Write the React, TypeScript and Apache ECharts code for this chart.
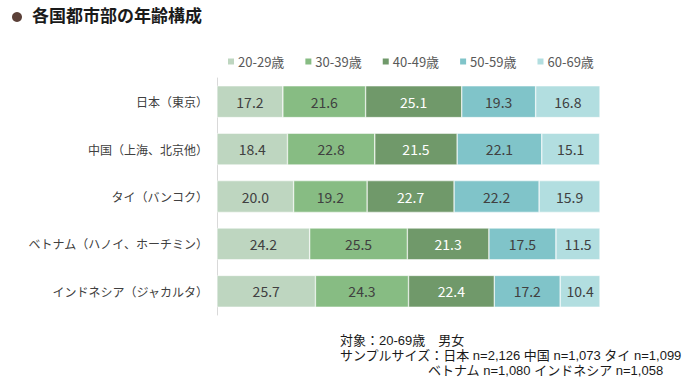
import React, { useEffect, useRef } from "react";
import * as echarts from "echarts";

const categories = ["日本（東京）", "中国（上海、北京他）", "タイ（バンコク）", "ベトナム（ハノイ、ホーチミン）", "インドネシア（ジャカルタ）"];
const seriesNames = ["20-29歳", "30-39歳", "40-49歳", "50-59歳", "60-69歳"];
const age20 = [17.2, 18.4, 20.0, 24.2, 25.7];
const age30 = [21.6, 22.8, 19.2, 25.5, 24.3];
const age40 = [25.1, 21.5, 22.7, 21.3, 22.4];
const age50 = [19.3, 22.1, 22.2, 17.5, 17.2];
const age60 = [16.8, 15.1, 15.9, 11.5, 10.4];
const colors = ["#bed6c0", "#87bc83", "#70996a", "#80c4c9", "#b2dee0"];
const labelColors = ["#404040", "#404040", "#ffffff", "#404040", "#404040"];
const title = "各国都市部の年齢構成";
const notes = ["対象：20-69歳　男女", "サンプルサイズ：日本 n=2,126 中国 n=1,073 タイ n=1,099", "ベトナム n=1,080 インドネシア n=1,058"];

export default function App() {
  const ref = useRef<HTMLDivElement>(null);
  useEffect(() => {
    const chart = echarts.init(ref.current!, null, { renderer: "svg" });
    const allData = [age20, age30, age40, age50, age60];
    const font = "'Noto Sans CJK JP', 'Noto Sans', sans-serif";
    const noteFont = "'Liberation Sans', 'Noto Sans CJK JP', sans-serif";
    const noteStyle = (text: string) => ({ text, font: `13px ${noteFont}`, fill: "#1a1a1a", lineHeight: 14, verticalAlign: "middle" });
    chart.setOption({
      animation: false,
      textStyle: { fontFamily: font },
      grid: { left: 217, right: 100, top: 78, bottom: 72, containLabel: false },
      legend: {
        top: 50,
        left: 221,
        itemWidth: 8,
        itemHeight: 8,
        itemGap: 19,
        icon: "rect",
        textStyle: { fontSize: 13, color: "#595959", fontFamily: font, padding: [0, 0, 0, -2] },
        data: seriesNames,
      },
      xAxis: { type: "value", min: 0, max: 100, show: false },
      yAxis: {
        type: "category",
        data: categories,
        inverse: true,
        axisLine: { show: true, lineStyle: { color: "#d9d9d9", width: 1 } },
        axisTick: { show: false },
        axisLabel: { fontSize: 12, color: "#404040", margin: 9, fontFamily: font },
      },
      series: seriesNames.map((name, i) => ({
        name,
        type: "bar",
        stack: "total",
        barWidth: "67%",
        data: allData[i],
        itemStyle: { color: colors[i], borderColor: "#ffffff", borderWidth: 0.5 },
        label: {
          show: true,
          position: "inside",
          fontSize: 14,
          color: labelColors[i],
          fontFamily: font,
          formatter: (p: any) => p.value.toFixed(1),
        },
      })),
      graphic: [
        { type: "circle", shape: { cx: 17, cy: 17, r: 5 }, style: { fill: "#5b4038" } },
        { type: "text", left: 32, top: 6, style: { text: title, font: `bold 17px ${font}`, fill: "#1a1a1a" } },
        { type: "text", x: 340, y: 340, style: noteStyle(notes[0]) },
        { type: "text", x: 340, y: 355, style: noteStyle(notes[1]) },
        { type: "text", x: 428, y: 370, style: noteStyle(notes[2]) },
      ],
    });
    return () => chart.dispose();
  }, []);
  return <div ref={ref} style={{ width: 700, height: 387, position: "absolute", left: 0, top: 0, background: "#fff" }} />;
}
